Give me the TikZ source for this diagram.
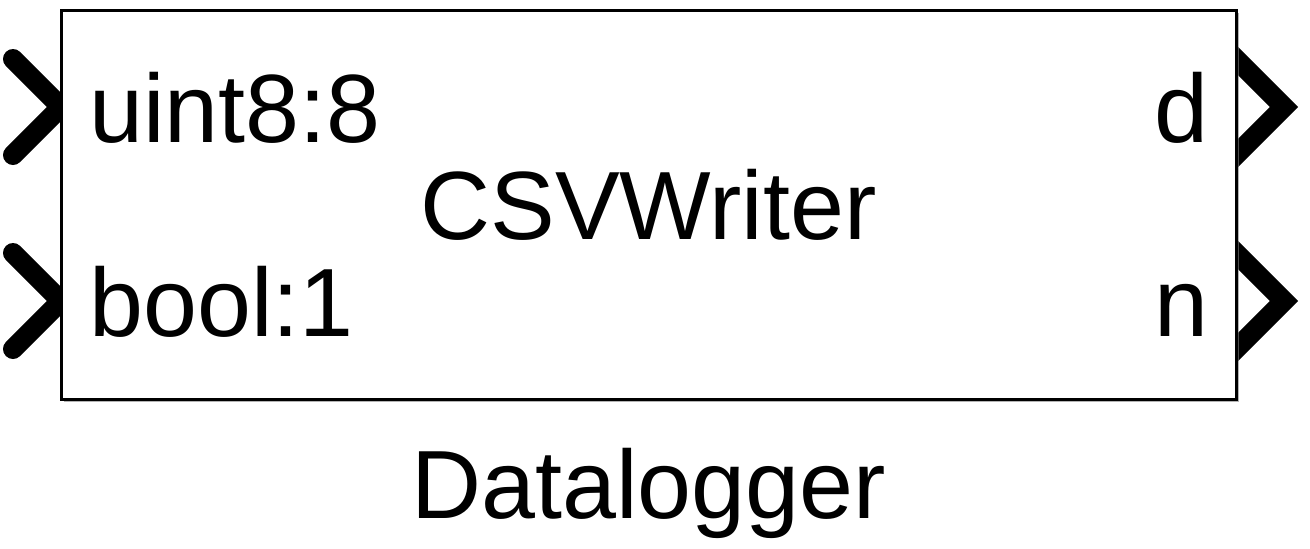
\documentclass[tikz,border=0pt]{standalone}
\usepackage{fontspec}
\setmainfont{Liberation Sans}
\usetikzlibrary{positioning,shadows}
\begin{document}
\begin{tikzpicture}
	[x=0.5pt,y=-0.5pt,font=\fontsize{48.5}{58}\selectfont,
	block/.style={rectangle,draw,line width=1.5pt,fill=white,minimum width=587.5pt,minimum height=194.5pt,inner sep=0pt,drop shadow={shadow xshift=1.5pt,shadow yshift=-1.5pt,fill=gray,opacity=0.6}},
	port/.style={line width=10pt,line join=miter},
	lbl/.style={inner sep=0pt}]
	\useasboundingbox (0,0) rectangle (1310,548);
	\coordinate (p1) at (61,107);
	\coordinate (p2) at (61,301);
	\coordinate (q1) at (1236,107);
	\coordinate (q2) at (1236,301);
	\draw[port,line cap=round] ([shift={(-48,-48)}]p1) -- (p1) -- ([shift={(-48,48)}]p1);
	\draw[port,line cap=round] ([shift={(-48,-48)}]p2) -- (p2) -- ([shift={(-48,48)}]p2);
	\draw[port] ([shift={(-10,-58)}]q1) -- ([shift={(48,0)}]q1) -- ([shift={(-10,58)}]q1);
	\draw[port] ([shift={(-10,-58)}]q2) -- ([shift={(48,0)}]q2) -- ([shift={(-10,58)}]q2);
	\node[block,name=csv]at(648.5,204.5){CSVWriter};
	\node[lbl,anchor=base west,name=u8]at([shift={(28,35)}]p1){uint8:8};
	\node[lbl,anchor=base west,name=b1]at([shift={(28,35)}]p2){bool:1};
	\node[lbl,anchor=base east,name=d]at([shift={(-27,35)}]q1){d};
	\node[lbl,anchor=base east,name=n]at([shift={(-27,35)}]q2){n};
	\node[lbl,below=23.5pt of csv,name=dl]{Datalogger};
\end{tikzpicture}
\end{document}
